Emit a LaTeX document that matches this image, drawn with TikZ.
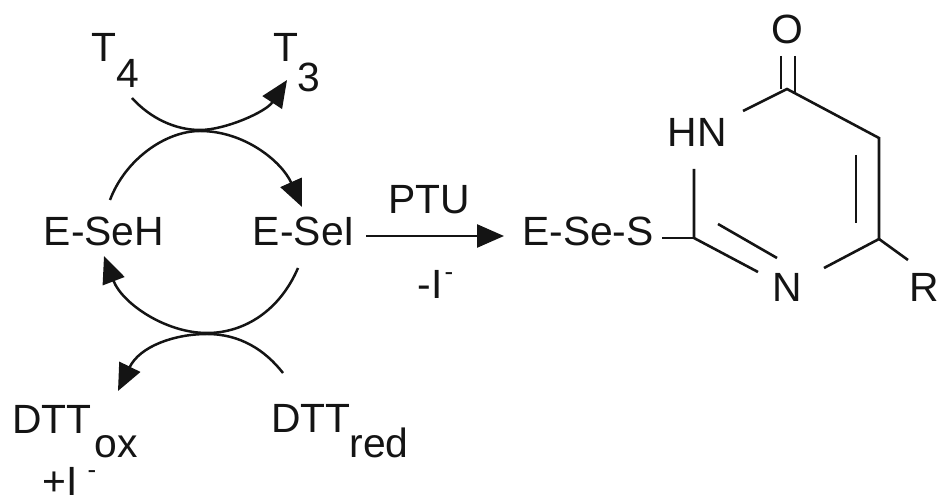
\documentclass[tikz,border=0pt]{standalone}
\usepackage{fontspec}
\setmainfont{Liberation Sans}
\usetikzlibrary{arrows.meta}
\definecolor{ink}{gray}{0.08}
\tikzset{
 lab/.style={inner sep=0pt,font=\fontsize{41}{41}\selectfont,text=ink},
 sup/.style={inner sep=0pt,font=\fontsize{26}{26}\selectfont,text=ink},
 curve/.style={draw=ink,line width=2.5pt},
 tip/.style={-{Triangle[length=27bp,width=23bp]}},
 bond/.style={draw=ink,line width=2.6pt,line cap=butt}
}
\begin{document}
\begin{tikzpicture}[x=1bp,y=-1bp]
\useasboundingbox (0,0) rectangle (939,497);
% labels
\node[lab] (t4a) at (104,47) {T};
\node[lab] (t4b) at (128,73) {4};
\node[lab] (t3a) at (286,47) {T};
\node[lab] (t3b) at (309,77) {3};
\node[lab] (eseh) at (104,231) {E-SeH};
\node[lab] (esei) at (304,231) {E-SeI};
\node[lab] (ptu) at (429,200) {PTU};
\node[lab] (il) at (430,284) {-I};
\node[sup] (ilm) at (449,277) {-};
\node[lab] (eses) at (588,231) {E-Se-S};
\node[lab] (dox) at (52,419) {DTT};
\node[lab] (ox) at (116,447) {ox};
\node[lab] (dre) at (311,418) {DTT};
\node[lab] (re) at (379,443) {red};
\node[lab] (pi) at (60,481) {+I};
\node[sup] (pim) at (92,475) {-};
\node[lab] (o) at (787,29) {O};
\node[lab] (hn) at (697,132) {HN};
\node[lab] (n) at (787,287) {N};
\node[lab] (r) at (924,287) {R};
% cycle coordinates
\coordinate (tA) at (132,98);
\coordinate (tM) at (200,130);
\coordinate (tB) at (287,80);
\coordinate (uA) at (110,200);
\coordinate (uM) at (200,131);
\coordinate (uB) at (302,207);
\coordinate (lA) at (298,268);
\coordinate (lM) at (207,333);
\coordinate (lB) at (104,256);
\coordinate (bA) at (283,373);
\coordinate (bM) at (207,334);
\coordinate (bB) at (118,391);
\draw[curve,tip] (tA) .. controls (150,118) and (175,130) .. (tM) .. controls (225,130) and (266,112) .. (tB);
\draw[curve,tip] (uA) .. controls (125,160) and (165,131) .. (uM) .. controls (245,131) and (282,162) .. (uB);
\draw[curve,tip] (lA) .. controls (280,310) and (245,333) .. (lM) .. controls (165,333) and (122,303) .. (lB);
\draw[curve,tip] (bA) .. controls (265,350) and (240,334) .. (bM) .. controls (175,334) and (140,346) .. (bB);
% reaction arrow
\coordinate (arS) at (366,236);
\coordinate (arE) at (504,236);
\draw[bond,tip] (arS) -- (arE);
% ring
\coordinate (c4) at (787,89);
\coordinate (c5) at (879,138);
\coordinate (c6) at (879,239);
\coordinate (c2) at (694,238);
\coordinate (oL) at (781,56);
\coordinate (oR) at (795,56);
\coordinate (oLb) at (781,89);
\coordinate (oRb) at (795,92);
\coordinate (hnE) at (743,111);
\coordinate (hnS) at (694,169);
\coordinate (sE) at (662,238);
\coordinate (nW) at (758,272);
\coordinate (nE) at (824,268);
\coordinate (rW) at (908,260);
\coordinate (i1) at (718,224);
\coordinate (i2) at (777,258);
\coordinate (i3) at (856,155);
\coordinate (i4) at (856,223);
\draw[bond] (oL) -- (oLb);
\draw[bond] (oR) -- (oRb);
\draw[bond] (hnE) -- (c4) -- (c5) -- (c6) -- (nE);
\draw[bond] (c6) -- (rW);
\draw[bond] (i3) -- (i4);
\draw[bond] (hnS) -- (c2) -- (nW);
\draw[bond] (sE) -- (c2);
\draw[bond] (i1) -- (i2);
\end{tikzpicture}
\end{document}
